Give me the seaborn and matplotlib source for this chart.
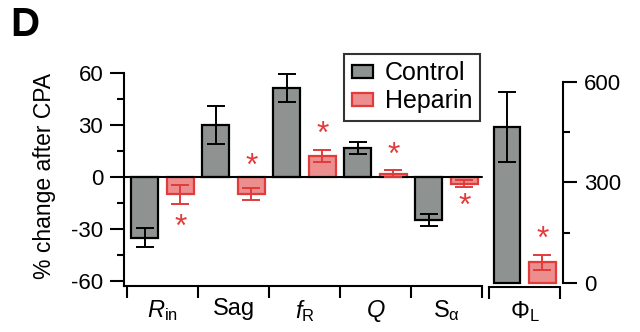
import matplotlib
matplotlib.use("Agg")
import matplotlib.pyplot as plt
import seaborn as sns
import pandas as pd

# ---- data ----
categories = [r"$R_{\mathrm{in}}$", "Sag", r"$f_{\mathrm{R}}$", r"$Q$", r"$\mathrm{S}_{\mathrm{α}}$"]
conditions = ["Control", "Heparin"]
control_vals = [-35, 30, 51, 16.5, -24.5]
control_err = [5.5, 11, 8, 3.5, 3.5]
heparin_vals = [-10, -10, 12, 2, -4]
heparin_err = [5.5, 3.5, 3.5, 2, 2]
star_y = [-25, 9.6, 28, 16, -13.4]

phi_label = [r"$\Phi_{\mathrm{L}}$"]
phi_control = [465]
phi_control_err = [105]
phi_heparin = [62]
phi_heparin_err = [23]
phi_star_y = [150]

left_ticks = [-60, -30, 0, 30, 60]
right_ticks = [0, 300, 600]

# ---- style ----
sns.set_style("ticks")
plt.rcParams["font.family"] = ["Liberation Sans", "DejaVu Sans"]
plt.rcParams["mathtext.fontset"] = "custom"
plt.rcParams["mathtext.rm"] = "Liberation Sans"
plt.rcParams["mathtext.it"] = "Liberation Sans:italic"
plt.rcParams["mathtext.bf"] = "Liberation Sans:bold"
for k in ["text.color", "axes.labelcolor", "xtick.color", "ytick.color", "axes.edgecolor"]:
    plt.rcParams[k] = "black"

GRAY = "#8e9391"
RED_FILL = "#ec8e8e"
RED = "#e23b3b"
edge_cols = {"Control": "black", "Heparin": RED}

W, H = 640, 332
fig = plt.figure(figsize=(6.4, 3.32), dpi=100)

ax = fig.add_axes([124 / W, (H - 286) / H, 359 / W, (286 - 72.7) / H])
ax2 = fig.add_axes([487 / W, (H - 287) / H, 76 / W, (287 - 82) / H])

df = pd.DataFrame({
    "cat": categories * 2,
    "cond": ["Control"] * len(categories) + ["Heparin"] * len(categories),
    "value": control_vals + heparin_vals,
})
err_main = {"Control": control_err, "Heparin": heparin_err}

df2 = pd.DataFrame({
    "cat": phi_label * 2,
    "cond": ["Control", "Heparin"],
    "value": phi_control + phi_heparin,
})
err_phi = {"Control": phi_control_err, "Heparin": phi_heparin_err}

pal = {"Control": GRAY, "Heparin": RED_FILL}

for a, d, errs in [(ax, df, err_main), (ax2, df2, err_phi)]:
    sns.barplot(data=d, x="cat", y="value", hue="cond", hue_order=conditions,
                palette=pal, width=1.0, gap=0.24, errorbar=None,
                linewidth=1.6, ax=a, legend=False, saturation=1)
    for cond, cont in zip(conditions, a.containers):
        for i, bar in enumerate(cont):
            bar.set_edgecolor(edge_cols[cond])
            bar.set_linewidth(1.6)
            xc = bar.get_x() + bar.get_width() / 2
            a.errorbar(xc, bar.get_height(), yerr=errs[cond][i],
                       fmt="none", ecolor=edge_cols[cond], elinewidth=1.4,
                       capsize=6.5, capthick=1.4, zorder=5)

# asterisks
for a, cont, ys in [(ax, ax.containers[1], star_y), (ax2, ax2.containers[1], phi_star_y)]:
    for bar, sy in zip(cont, ys):
        xc = bar.get_x() + bar.get_width() / 2
        a.annotate("*", (xc, sy), xytext=(0, -5), textcoords="offset points",
                   color=RED, fontsize=23, ha="center", va="center")

# main axis formatting
n = len(categories)
ax.set_xlim(-0.542, n - 0.486)
ax.set_ylim(-62.7, 60)
ax.axhline(0, color="black", lw=1.5, xmin=0, xmax=(n - 0.5 + 0.542) / (n - 0.486 + 0.542), zorder=1)
for s in ["top", "right"]:
    ax.spines[s].set_visible(False)
for s in ["left", "bottom"]:
    ax.spines[s].set_linewidth(1.5)
ax.spines["bottom"].set_bounds(-0.542, n - 0.5)
ax.set_yticks(left_ticks)
ax.set_yticks([-45, -15, 15, 45], minor=True)
ax.set_yticklabels([str(t) for t in left_ticks])
ax.tick_params(axis="y", which="major", length=10, width=1.5, labelsize=16, pad=5)
ax.tick_params(axis="y", which="minor", length=5, width=1.5)
ax.set_xticks(range(n))
ax.set_xticklabels(categories)
ax.set_xticks([i - 0.5 for i in range(n + 1)], minor=True)
ax.tick_params(axis="x", which="major", length=0, labelsize=17, pad=9)
ax.tick_params(axis="x", which="minor", length=8.6, width=1.5)
ax.set_xlabel("")
ax.set_ylabel("")

# phi axis formatting
ax2.set_xlim(-0.532, 0.539)
ax2.set_ylim(-12, 600)
for s in ["top", "left"]:
    ax2.spines[s].set_visible(False)
for s in ["right", "bottom"]:
    ax2.spines[s].set_linewidth(1.5)
ax2.spines["right"].set_bounds(0, 600)
ax2.spines["bottom"].set_bounds(-0.5, 0.5)
ax2.yaxis.tick_right()
ax2.set_yticks(right_ticks)
ax2.set_yticks([150, 450], minor=True)
ax2.set_yticklabels([str(t) for t in right_ticks])
ax2.tick_params(axis="y", which="major", length=10, width=1.5, labelsize=16, pad=5,
                left=False, right=True)
ax2.tick_params(axis="y", which="minor", length=5, width=1.5, left=False, right=True)
ax2.set_xticks([0])
ax2.set_xticklabels(phi_label)
ax2.set_xticks([-0.5, 0.5], minor=True)
ax2.tick_params(axis="x", which="major", length=0, labelsize=17, pad=9)
ax2.tick_params(axis="x", which="minor", length=8.6, width=1.5)
ax2.set_xlabel("")
ax2.set_ylabel("")

# legend
handles = [ax.containers[0][0], ax.containers[1][0]]
leg = fig.legend(handles, conditions, loc="upper left",
                 bbox_to_anchor=(344 / W, 1 - 54 / H), fontsize=18,
                 frameon=True, fancybox=False, edgecolor="black",
                 handlelength=0.85, handleheight=0.42, handletextpad=0.5,
                 labelspacing=0.15, borderpad=0.3, borderaxespad=0)
leg.get_frame().set_linewidth(1.5)

# labels
fig.text(45 / W, 1 - 176 / H, "% change after CPA", rotation=90,
         ha="center", va="center", fontsize=16.5)
fig.text(10 / W, 1 - 6 / H, "D", fontsize=29, fontweight="bold",
         ha="left", va="top")

fig.savefig("out.png", dpi=100)
